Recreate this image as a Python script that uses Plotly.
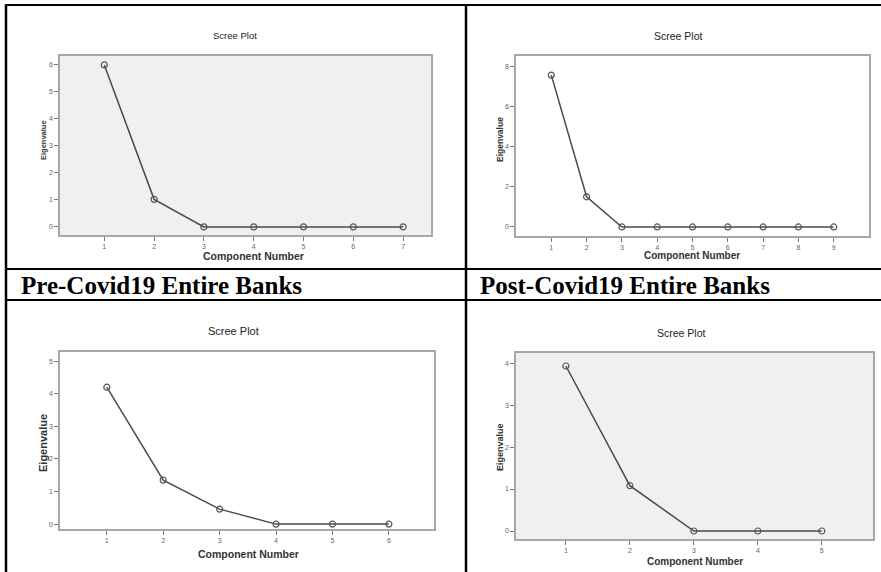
import plotly.graph_objects as go

W, H = 881, 572

# ---- data ----
pre_banks_eigen = [6.0, 1.02, 0.0, 0.0, 0.0, 0.0, 0.0]
post_banks_eigen = [7.55, 1.5, 0.0, 0.0, 0.0, 0.0, 0.0, 0.0, 0.0]
panel3_eigen = [4.2, 1.35, 0.46, 0.0, 0.0, 0.0]
panel4_eigen = [3.93, 1.08, 0.0, 0.0, 0.0]

panel_labels = ["Pre-Covid19 Entire Banks", "Post-Covid19 Entire Banks"]
chart_title = "Scree Plot"
x_title = "Component Number"
y_title = "Eigenvalue"

y_ticks_1 = [0, 1, 2, 3, 4, 5, 6]
y_ticks_2 = [0, 2, 4, 6, 8]
y_ticks_3 = [0, 1, 2, 3, 4, 5]
y_ticks_4 = [0, 1, 2, 3, 4]


def px(x):
    return x / W


def py(y):
    return 1 - y / H


panels = [
    dict(vals=pre_banks_eigen, yt=y_ticks_1, box=(60, 431, 56, 235),
         xr=[0.11, 7.56], yr=[-0.3, 6.33], bg="#f0f0f0",
         tpos=(235, 36), xtpos=(253, 256), ytpos=(43, 140),
         tsize=9.5, xsize=10.5, ysize=7.5),
    dict(vals=post_banks_eigen, yt=y_ticks_2, box=(516, 869, 56, 236),
         xr=[0.0, 10.0], yr=[-0.45, 8.5], bg="#ffffff",
         tpos=(678, 36), xtpos=(692, 256), ytpos=(500, 140),
         tsize=10.5, xsize=10, ysize=8.5),
    dict(vals=panel3_eigen, yt=y_ticks_3, box=(60, 434, 352, 529),
         xr=[0.17, 6.8], yr=[-0.15, 5.28], bg="#ffffff",
         tpos=(233, 331), xtpos=(248, 554), ytpos=(43, 443),
         tsize=11, xsize=10.5, ysize=11),
    dict(vals=panel4_eigen, yt=y_ticks_4, box=(516, 873, 353, 539),
         xr=[0.22, 5.8], yr=[-0.19, 4.24], bg="#f0f0f0",
         tpos=(681, 333), xtpos=(695, 561), ytpos=(500, 447),
         tsize=10.5, xsize=10, ysize=9),
]

fig = go.Figure()
layout = dict(
    width=W, height=H, margin=dict(l=0, r=0, t=0, b=0),
    paper_bgcolor="white", plot_bgcolor="white", showlegend=False,
    font=dict(family="Liberation Sans, Arial", color="#333"),
)
shapes = []
annotations = []


def note(text, x, y, size, color="#333", angle=0, family=None, xanchor="center"):
    f = dict(size=size, color=color)
    if family:
        f["family"] = family
    annotations.append(dict(text=text, x=px(x), y=py(y), xref="paper", yref="paper",
                            showarrow=False, xanchor=xanchor, yanchor="middle",
                            textangle=angle, font=f))


for i, p in enumerate(panels, start=1):
    sfx = "" if i == 1 else str(i)
    xs = list(range(1, len(p["vals"]) + 1))
    fig.add_trace(go.Scatter(
        x=xs, y=p["vals"], mode="lines+markers",
        line=dict(color="#4a4a4a", width=1.5),
        marker=dict(symbol="circle-open", size=6, color="#555555", line=dict(width=1.2)),
        xaxis="x" + sfx, yaxis="y" + sfx, cliponaxis=False,
    ))
    x0, x1, y0, y1 = p["box"]
    layout["xaxis" + sfx] = dict(
        domain=[px(x0), px(x1)], range=p["xr"], anchor="y" + sfx,
        tickmode="array", tickvals=xs, ticktext=[str(v) for v in xs],
        ticks="outside", ticklen=4, tickcolor="#777", tickwidth=1,
        tickfont=dict(size=7, color="#666"),
        showgrid=False, zeroline=False, showline=True, mirror=True,
        linecolor="#a8a8a8", linewidth=1.5, fixedrange=True,
    )
    layout["yaxis" + sfx] = dict(
        domain=[py(y1), py(y0)], range=p["yr"], anchor="x" + sfx,
        tickmode="array", tickvals=p["yt"], ticktext=[str(v) for v in p["yt"]],
        ticks="outside", ticklen=4, tickcolor="#777", tickwidth=1,
        tickfont=dict(size=7, color="#666"),
        showgrid=False, zeroline=False, showline=True, mirror=True,
        linecolor="#a8a8a8", linewidth=1.5, fixedrange=True,
    )
    shapes.append(dict(type="rect", xref="x" + sfx + " domain", yref="y" + sfx + " domain",
                       x0=0, x1=1, y0=0, y1=1, fillcolor=p["bg"], line=dict(width=0),
                       layer="below"))
    note(chart_title, *p["tpos"], size=p["tsize"], color="#222")
    note("<b>" + x_title + "</b>", *p["xtpos"], size=p["xsize"])
    note("<b>" + y_title + "</b>", *p["ytpos"], size=p["ysize"], angle=-90)


def hline(y, x0, x1, w=2):
    shapes.append(dict(type="line", xref="paper", yref="paper",
                       x0=px(x0), x1=px(x1), y0=py(y), y1=py(y),
                       line=dict(color="black", width=w)))


def vline(x, y0, y1, w=2):
    shapes.append(dict(type="line", xref="paper", yref="paper",
                       x0=px(x), x1=px(x), y0=py(y0), y1=py(y1),
                       line=dict(color="black", width=w)))


hline(5, 5, 881)
hline(269, 5, 881)
hline(300, 5, 881)
vline(6, 4, 572, 2.5)
vline(466, 4, 572, 2.5)

for lbl, lx in zip(panel_labels, [19, 478]):
    note("<b>" + lbl + "</b>", lx, 285, size=25, color="black",
         family="Liberation Serif, Times New Roman", xanchor="left")

layout["shapes"] = shapes
layout["annotations"] = annotations
fig.update_layout(**layout)
fig.write_html("out.html", config={"displayModeBar": False},
               post_script="document.body.style.margin='0px';document.body.style.overflow='hidden';")
